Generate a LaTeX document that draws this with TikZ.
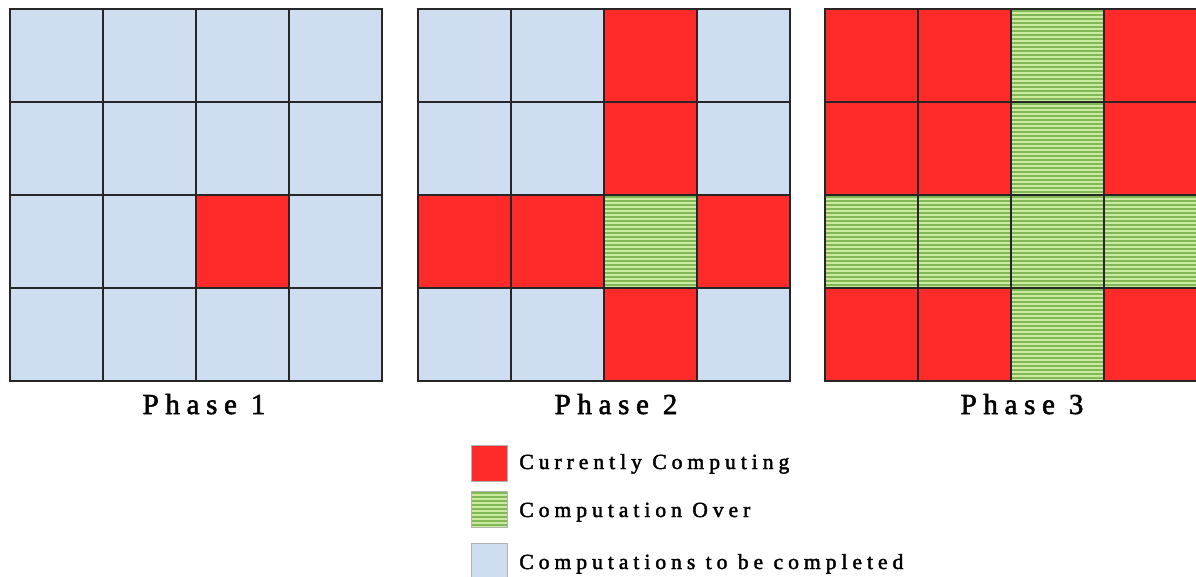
\documentclass[tikz,border=0pt]{standalone}
\usepackage{fontspec}
\setmainfont{Liberation Serif}
\newfontfamily\spaced[LetterSpace=23,FakeBold=2]{Liberation Serif}
\definecolor{busyred}{RGB}{255,43,43}
\definecolor{idleblue}{RGB}{206,222,240}
\definecolor{donelight}{RGB}{205,235,160}
\definecolor{donedark}{RGB}{128,184,88}

\begin{document}
\begin{tikzpicture}[x=0.02cm,y=-0.02cm,stripes/.style={fill=donelight, path picture={\foreach \k in {1,...,24}{\draw[donedark, line width=1.1pt] ([yshift=-\k*0.08cm+0.04cm]path picture bounding box.north west) -- ([yshift=-\k*0.08cm+0.04cm]path picture bounding box.north east);}}},cell/.style={draw=black!85, line width=0.9pt, minimum size=1.86cm, inner sep=0pt, anchor=north west},idle/.style={cell, fill=idleblue},busy/.style={cell, fill=busyred},done/.style={cell, stripes},phase/.style={font=\spaced\fontsize{16.5}{20}\selectfont, anchor=base, inner sep=0pt},key/.style={draw=black!30, line width=0.4pt, minimum size=0.72cm, inner sep=0pt, anchor=north west},keytext/.style={font=\spaced\fontsize{12.3}{15}\selectfont, anchor=base west, inner sep=0pt}]
\clip (0,0) rectangle (1196,576);
% phase 1
\foreach \st [count=\i from 0] in {idle,idle,idle,idle,idle,idle,idle,idle,idle,idle,busy,idle,idle,idle,idle,idle}{\pgfmathtruncatemacro\r{\i/4}\pgfmathtruncatemacro\c{mod(\i,4)}\node[\st] (a\r\c) at (9+93*\c,8+93*\r) {};}
% phase 2
\foreach \st [count=\i from 0] in {idle,idle,busy,idle,idle,idle,busy,idle,busy,busy,done,busy,idle,idle,busy,idle}{\pgfmathtruncatemacro\r{\i/4}\pgfmathtruncatemacro\c{mod(\i,4)}\node[\st] (b\r\c) at (417+93*\c,8+93*\r) {};}
% phase 3
\foreach \st [count=\i from 0] in {busy,busy,done,busy,busy,busy,done,busy,done,done,done,done,busy,busy,done,busy}{\pgfmathtruncatemacro\r{\i/4}\pgfmathtruncatemacro\c{mod(\i,4)}\node[\st] (c\r\c) at (824+93*\c,8+93*\r) {};}
\node[phase] (ph1) at (204,414) {Phase 1};
\node[phase] (ph2) at (616,414) {Phase 2};
\node[phase] (ph3) at (1022,414) {Phase 3};
% legend
\node[key, fill=busyred] (kbusy) at (471,445) {};
\node[key, stripes] (kdone) at (471,491) {};
\node[key, fill=idleblue] (kidle) at (471,543) {};
\node[keytext] (tbusy) at (519,469) {Currently Computing};
\node[keytext] (tdone) at (519,517) {Computation Over};
\node[keytext] (tidle) at (519,569) {Computations to be completed};
\end{tikzpicture}
\end{document}
